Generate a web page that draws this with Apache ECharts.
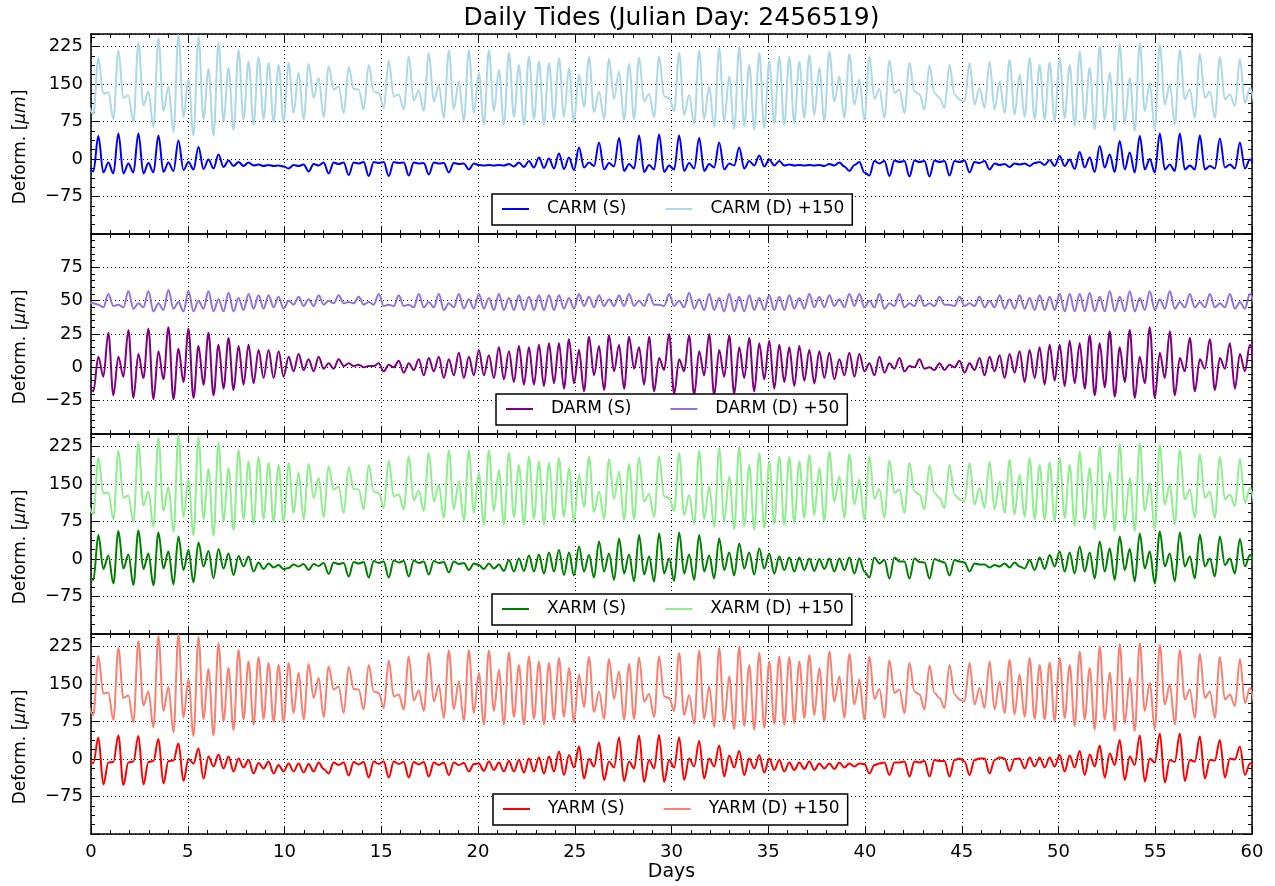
<!DOCTYPE html>
<html>
<head>
<meta charset="utf-8">
<script src="https://cdn.jsdelivr.net/npm/echarts@6/dist/echarts.min.js"></script>
<style>html,body{margin:0;padding:0;background:#fff}#c{width:1275px;height:886px}</style>
</head>
<body>
<div id="c"></div>
<script>
// Values at the successive tidal extrema (peaks / troughs),
// which fall on a regular half-cycle (~6.21 h) time grid starting just before day 0.
const FIRST_EXTREMUM_DAY = -0.1375;
const HALF_CYCLE_DAYS = 0.25875;

const CARM_S = [
-15,-25,46,-27,-7,-29,51,-29,-9,-27, 51,-29,-8,-27,47,-26,-7,-24,37,-22,
-6,-21,24,-20,-1,-19,9,-16,-3,-14, -6,-14,-7,-13,-11,-14,-12,-14,-13,-15,
-19,-12,-14,-11,-25,-10,-13,-7,-29,-7, -10,-7,-32,-7,-9,-6,-34,-6,-8,-6,
-34,-6,-8,-7,-33,-7,-9,-8,-31,-7, -9,-8,-27,-8,-10,-9,-21,-9,
-12,-13,-12,-13,-12,-13,-10,-15,-7,-16, -4,-17,3,-18,1,-19,11,-20,3,-22,
23,-17,-7,-14,33,-21,-8,-15,42,-24, -10,-19,47,-26,-12,-21,49,-26,-13,-21,
47,-24,-8,-19,42,-24,-10,-17,33,-21, -9,-13,23,-19,-4,-13,7,-15,-1,-13,
-4,-13,-11,-13,-12,-13,-12,-13,-12,-14, -10,-13,-7,-15,-24,-12,-6,-27,
-33,-4,-9,-4,-34,-3,-6,-4,-35,-3, -6,-4,-35,-3,-6,-4,-33,-4,-6,-3,
-27,-6,-8,-4,-21,-9,-12,-10,-16,-9, -11,-9,-14,-8,-6,-12,-2,-14,6,-14,
-1,-20,14,-17,3,-26,26,-17,9,-26, 36,-21,13,-27,46,-21,0,-27,51,-21,
-11,-24,51,-21,-13,-21,47,-21,-14,-19, 41,-17,-11,-19,33,-19,-1,-15
];
const CARM_D = [
109,90,202,131,133,79,217,122,127,74, 232,107,135,64,242,96,144,54,248,84,
159,47,244,80,180,47,232,76,182,58, 218,79,195,69,204,80,192,74,188,74,
192,92,173,79,190,122,162,84,185,139, 145,92,184,140,139,99,188,135,132,102,
197,125,129,99,205,117,137,96,212,115, 148,82,217,100,155,76,218,92,
172,69,217,96,178,69,213,84,188,69, 205,80,195,69,192,79,202,84,182,74,
169,104,204,94,135,80,200,120,175,78, 190,80,203,115,130,84,205,125,122,96,
212,88,128,70,217,80,145,64,222,75, 165,60,224,66,188,59,212,62,195,70,
205,68,204,72,195,82,208,88,182,76, 215,115,165,82,210,109,159,78,
205,120,140,82,197,132,139,92,192,135, 129,99,187,132,122,102,188,129,119,115,
192,109,142,102,195,99,155,92,198,89, 169,84,202,80,188,79,193,76,202,82,
188,66,215,79,182,59,225,78,173,56, 230,72,162,56,232,96,152,59,228,109,
149,69,218,119,139,82,210,122,135,82, 204,119,129,106,200,112,142,99
];
const DARM_S = [
-10,-18,8,-7,26,-21,8,-7,28,-23, 10,-8,29,-24,12,-9,30,-24,14,-11,
29,-23,16,-13,26,-21,17,-16,22,-17, 16,-13,17,-12,13,-8,13,-8,12,-7,
8,-3,10,-2,6,-3,8,-1,3,-1, 6,1,3,1,2,0,1,1,3,-3,
2,0,5,-4,3,-2,6,-6,7,-3, 8,-8,6,-6,11,-8,8,-6,
13,-6,9,-8,15,-9,12,-11,16,-13, 15,-13,17,-14,18,-12,18,-16,21,-12,
13,-18,23,-6,16,-17,24,-3,17,-16, 23,-1,15,-13,23,-18,7,-2,25,-20,
6,-3,24,-21,12,-6,25,-21,13,-7, 24,-20,15,-8,22,-18,18,-9,20,-16,
17,-11,15,-14,16,-10,13,-12,12,-8, 11,-9,6,-6,11,-7,10,-3,
3,-6,8,-4,3,-1,7,-3,1,0, 6,-1,0,-2,3,-2,2,0,5,-4,
3,-2,7,-6,8,-3,9,-8,10,-4, 12,-11,13,-8,15,-13,17,-10,17,-14,
20,-12,18,-16,24,-21,18,-15,27,-22, 15,-11,28,-23,8,-12,30,-23,11,-8,
27,-21,7,-3,22,-18,6,-1,21,-17, 7,-1,18,-16,10,-3,17,-6
];
const DARM_D = [
49,48,47,45,55,46,47,45,57,44, 48,45,57,42,48,43,58,44,49,42,
57,42,50,44,57,42,51,42,56,42, 52,43,55,44,54,44,54,45,53,44,
50,47,53,46,51,46,54,47,50,48, 54,48,49,48,53,47,49,47,55,46,
47,46,54,46,47,45,55,45,49,45, 55,43,48,45,55,44,51,44,
55,44,52,43,55,43,52,43,54,43, 53,43,54,43,54,43,54,44,52,44,
55,46,53,45,54,46,51,46,54,46, 55,46,50,46,55,47,47,46,55,46,
50,45,56,44,51,43,55,43,52,42, 55,42,53,42,54,43,52,43,54,43,
53,43,54,44,52,44,55,45,53,45, 54,46,51,45,55,46,55,45,
50,45,55,44,48,46,55,45,48,46, 54,46,48,46,53,47,47,46,53,46,
48,46,53,45,50,45,54,44,51,44, 54,44,52,43,54,43,53,43,55,42,
55,42,55,42,56,42,53,42,57,42, 53,42,57,42,52,43,57,43,51,44,
57,44,49,45,55,45,49,45,55,45, 48,45,55,44,49,44,55,45
];
const XARM_S = [
-30,-42,48,-20,7,-49,56,-19,9,-52, 57,-20,11,-53,53,-19,15,-51,45,-22,
18,-47,33,-15,16,-39,20,-19,11,-32, 6,-15,5,-25,-7,-20,-9,-17,-12,-20,
-18,-11,-15,-10,-22,-10,-14,-8,-30,-7, -10,-8,-35,-6,-9,-6,-37,-4,-8,-5,
-37,-3,-7,-4,-35,-3,-8,-5,-31,-4, -8,-6,-27,-5,-10,-8,-22,-9,
-12,-20,-9,-19,-11,-24,-2,-25,1,-24, 7,-25,9,-29,13,-25,18,-32,13,-33,
25,-25,8,-37,35,-25,11,-42,41,-29, 9,-45,48,-31,5,-45,51,-29,1,-44,
53,-29,9,-42,48,-25,7,-39,41,-22, 13,-33,31,-19,13,-31,21,-19,11,-29,
5,-22,3,-25,3,-22,1,-24,0,-20, 1,-25,1,-22,3,-29,1,-25,
-37,3,-9,-2,-39,3,-5,-5,-39,1, -6,-7,-39,0,-4,-7,-33,-2,-5,-7,
-25,-9,-11,-11,-17,-12,-15,-9,-17,-7, -15,-19,-2,-22,3,-20,8,-15,15,-25,
13,-29,25,-25,13,-39,35,-25,21,-42, 45,-22,20,-45,51,-19,15,-49,55,-15,
11,-45,53,-15,5,-39,49,-15,1,-35, 45,-12,1,-29,40,-15,8,-20
];
const XARM_D = [
109,90,202,131,133,79,217,122,127,74, 232,107,135,64,242,96,144,54,248,84,
159,47,244,80,180,47,232,76,182,58, 218,79,195,69,204,80,192,74,188,74,
192,92,173,79,190,122,162,84,185,139, 145,92,184,140,139,99,188,135,132,102,
197,125,129,99,205,117,137,96,212,115, 148,82,217,100,155,76,218,92,
172,69,217,96,178,69,213,84,188,69, 205,80,195,69,192,79,202,84,182,74,
169,104,204,94,135,80,200,120,175,78, 190,80,203,115,130,84,205,125,122,96,
212,88,128,70,217,80,145,64,222,75, 165,60,224,66,188,59,212,62,195,70,
205,68,204,72,195,82,208,88,182,76, 215,115,165,82,210,109,159,78,
205,120,140,82,197,132,139,92,192,135, 129,99,187,132,122,102,188,129,119,115,
192,109,142,102,195,99,155,92,198,89, 169,84,202,80,188,79,193,76,202,82,
188,66,215,79,182,59,225,78,173,56, 230,72,162,56,232,96,152,59,228,109,
149,69,218,119,139,82,210,122,135,82, 204,119,129,106,200,112,142,99
];
const YARM_S = [
-5,-8,43,-51,-7,-6,47,-52,-7,-5, 46,-51,-6,-4,40,-49,-4,-3,31,-44,
0,-9,21,-39,5,-15,9,-19,5,-25, 1,-17,-2,-29,-8,-19,-5,-29,-12,-25,
-9,-25,-9,-27,-10,-25,-7,-20,-29,-7, -12,-7,-33,-6,-11,-6,-37,-5,-10,-5,
-37,-5,-10,-6,-37,-6,-11,-6,-35,-7, -12,-7,-32,-7,-12,-8,-25,-10,
-9,-24,-5,-22,-7,-25,-4,-25,-2,-27, 1,-25,3,-29,5,-25,15,-32,8,-17,
25,-39,0,-15,33,-42,-5,-17,43,-44, -5,-19,47,-46,-2,-19,48,-46,-2,-17,
43,-42,1,-15,36,-39,1,-15,27,-35, 7,-17,16,-32,1,-19,8,-27,1,-22,
-2,-25,-7,-22,-7,-20,-5,-22,-9,-19, -9,-20,-7,-17,-9,-15,-9,-10,
-29,-12,-9,-7,-32,-7,-7,-5,-35,-5, -7,-4,-35,-2,-4,-4,-35,-2,1,-5,
-32,-2,1,1,-29,-2,3,1,-24,0, 1,-19,3,-15,3,-17,3,-15,8,-25,
7,-17,16,-32,9,-15,27,-37,11,-12, 38,-42,5,-12,47,-45,1,-7,51,-47,
-2,-6,51,-44,-2,-5,45,-39,-2,-3, 38,-37,1,-1,25,-32,-9,-15
];
const YARM_D = [
109,88,206,131,133,78,222,122,127,73, 236,107,135,63,246,96,144,53,249,83,
159,46,244,80,180,47,232,76,182,58, 218,79,195,69,204,80,192,74,188,74,
192,92,173,79,190,122,162,84,185,139, 145,92,184,140,139,99,188,135,132,102,
197,125,129,99,205,117,137,96,212,115, 148,82,217,100,155,76,218,92,
172,69,217,96,178,69,213,84,188,69, 205,80,195,69,192,79,202,84,182,74,
169,104,204,94,135,80,200,120,175,78, 190,80,203,115,130,84,205,125,122,96,
212,88,128,70,217,80,145,64,222,75, 165,60,224,66,188,59,212,62,195,70,
205,68,204,72,195,82,208,88,182,76, 215,115,165,82,210,109,159,78,
205,120,140,82,197,132,139,92,192,135, 129,99,187,132,122,102,188,129,119,115,
192,109,142,102,195,99,155,92,198,89, 169,84,202,80,188,79,193,76,202,82,
188,66,215,79,182,59,225,78,173,56, 230,72,162,56,232,96,152,59,228,109,
149,69,218,119,139,82,210,122,135,82, 204,119,129,106,200,112,142,99
];

const TITLE = 'Daily Tides (Julian Day: 2456519)';
const X_LABEL = 'Days';
const ARM_TICK_LABELS = [-75, 0, 75, 150, 225];
const DARM_TICK_LABELS = [-25, 0, 25, 50, 75];

const PANELS = [
  {sName:'CARM (S)', dName:'CARM (D) +150', s:CARM_S, d:CARM_D, sColor:'#0000ff', dColor:'#add8e6',
   min:-150, max:250, interval:75, minor:4, labels:ARM_TICK_LABELS, legendLeft:492},
  {sName:'DARM (S)', dName:'DARM (D) +50', s:DARM_S, d:DARM_D, sColor:'#800080', dColor:'#9370db',
   min:-50, max:100, interval:25, minor:5, labels:DARM_TICK_LABELS, legendLeft:496},
  {sName:'XARM (S)', dName:'XARM (D) +150', s:XARM_S, d:XARM_D, sColor:'#008000', dColor:'#90ee90',
   min:-150, max:250, interval:75, minor:4, labels:ARM_TICK_LABELS, legendLeft:492},
  {sName:'YARM (S)', dName:'YARM (D) +150', s:YARM_S, d:YARM_D, sColor:'#ff0000', dColor:'#fa8072',
   min:-150, max:250, interval:75, minor:4, labels:ARM_TICK_LABELS, legendLeft:493}
];

function toPairs(vals) {
  return vals.map((v, i) => [FIRST_EXTREMUM_DAY + i * HALF_CYCLE_DAYS, v]);
}
function fmt(v) { return v < 0 ? '\u2212' + (-v) : String(v); }

const FONT = 'DejaVu Sans';
const GL = 91, GR = 23, GT = 34, PH = 200;
const grids = [], xAxes = [], yAxes = [], series = [], legends = [];
const axLine = {show:true, onZero:false, lineStyle:{color:'#000', width:1.5}};
const tick = {show:true, inside:true, length:8, lineStyle:{color:'#000', width:1}};
const minorT = n => ({show:true, splitNumber:n, length:4, lineStyle:{color:'#000', width:1}});
const dotted = {show:true, lineStyle:{color:'#000', width:1, type:[1,3]}};

PANELS.forEach((p, k) => {
  const top = GT + k * PH;
  const last = k === PANELS.length - 1;
  grids.push({left:GL, right:GR, top:top, height:PH});
  xAxes.push({type:'value', gridIndex:k, position:'bottom', min:0, max:60, interval:5,
    axisLine:axLine, axisTick:tick, minorTick:minorT(5), splitLine:dotted,
    axisLabel:{show:last, color:'#000', fontFamily:FONT, fontSize:18, margin:9},
    name:last ? X_LABEL : '', nameLocation:'middle', nameGap:29,
    nameTextStyle:{color:'#000', fontFamily:FONT, fontSize:19}});
  xAxes.push({type:'value', gridIndex:k, position:'top', min:0, max:60, interval:5,
    axisLine:axLine, axisTick:tick, minorTick:minorT(5), splitLine:{show:false}, axisLabel:{show:false}});
  yAxes.push({type:'value', gridIndex:k, position:'left', min:p.min, max:p.max, interval:p.interval,
    axisLine:axLine, axisTick:tick, minorTick:minorT(p.minor), splitLine:dotted,
    axisLabel:{color:'#000', fontFamily:FONT, fontSize:18, margin:8, showMinLabel:true, showMaxLabel:true,
      formatter: v => p.labels.indexOf(v) >= 0 ? fmt(v) : ''},
    name:'Deform. [{i|\u03bcm}]', nameLocation:'middle', nameGap:62, nameRotate:90,
    nameTextStyle:{color:'#000', fontFamily:FONT, fontSize:17, padding:[0,26,0,0],
      rich:{i:{fontStyle:'italic', fontFamily:FONT, fontSize:17, color:'#000'}}}});
  yAxes.push({type:'value', gridIndex:k, position:'right', min:p.min, max:p.max, interval:p.interval,
    axisLine:axLine, axisTick:tick, minorTick:minorT(p.minor), splitLine:{show:false}, axisLabel:{show:false}});
  [[p.sName, p.s, p.sColor, 3], [p.dName, p.d, p.dColor, 2]].forEach(([name, vals, color, z]) => {
    series.push({name:name, type:'line', xAxisIndex:2*k, yAxisIndex:2*k, data:toPairs(vals),
      smooth:0.36, smoothMonotone:'x', symbol:'none', showSymbol:false, color:color,
      lineStyle:{color:color, width:2}, itemStyle:{color:color}, z:z, silent:true});
  });
  legends.push({data:[p.sName, p.dName], left:p.legendLeft, top:top + 160, orient:'horizontal',
    icon:'rect', itemWidth:27, itemHeight:2, itemGap:39, padding:[5,8,6,10],
    borderColor:'#000', borderWidth:1.5,
    borderRadius:0, backgroundColor:'#fff', selectedMode:false, z:10,
    textStyle:{color:'#000', fontFamily:FONT, fontSize:17, lineHeight:20, padding:[0,0,0,13]}});
});

const chart = echarts.init(document.getElementById('c'), null, {renderer:'canvas'});
chart.setOption({
  animation:false,
  backgroundColor:'#fff',
  textStyle:{fontFamily:FONT},
  grid:grids, xAxis:xAxes, yAxis:yAxes, legend:legends, series:series,
  graphic:[{type:'text', x:671.5, y:18, z:20,
    style:{text:TITLE, fill:'#000', font:'25px "DejaVu Sans"', fontSize:25, fontFamily:FONT,
      align:'center', verticalAlign:'middle', textAlign:'center', textVerticalAlign:'middle'}}]
});
</script>
</body>
</html>
